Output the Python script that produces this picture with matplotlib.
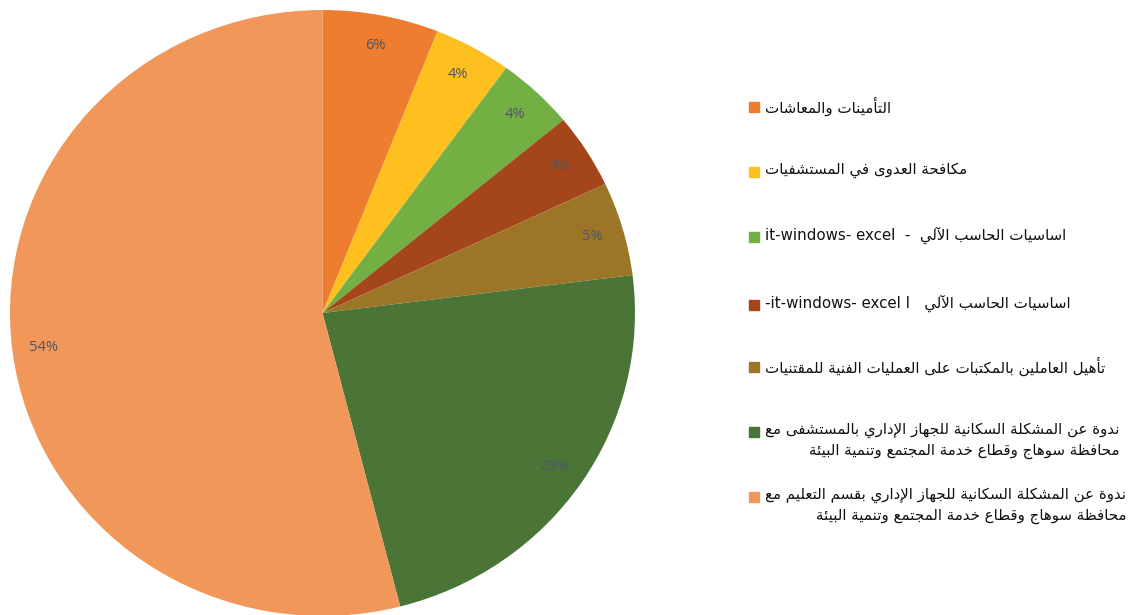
import matplotlib.pyplot as plt
from matplotlib.patches import Rectangle

# matplotlib has no Arabic shaping, so join letters with presentation forms
AR_LETTERS = "ءآأؤإئابةتثجحخدذرزسشصضطظعغفقكلمنهوىي"
AR_COUNTS = [1, 2, 2, 2, 2, 4, 2, 4, 2, 4, 4, 4, 4, 4, 2, 2, 2, 2, 4, 4,
             4, 4, 4, 4, 4, 4, 4, 4, 4, 4, 4, 4, 4, 2, 2, 4]
FORMS = {}
code = 0xFE80
for ch, n in zip(AR_LETTERS, AR_COUNTS):
    FORMS[ch] = (code, n)
    code += n
LAM_ALEF = {"آ": 0xFEF5, "أ": 0xFEF7, "إ": 0xFEF9, "ا": 0xFEFB}


def ar(text):
    toks = []
    i = 0
    while i < len(text):
        c = text[i]
        if c == "ل" and i + 1 < len(text) and text[i + 1] in LAM_ALEF:
            toks.append((LAM_ALEF[text[i + 1]], 2))
            i += 2
            continue
        toks.append(FORMS.get(c, c))
        i += 1
    out = []
    for k, t in enumerate(toks):
        if isinstance(t, str):
            out.append(t)
            continue
        base, n = t
        prev = (n > 1 and k > 0 and isinstance(toks[k - 1], tuple)
                and toks[k - 1][1] == 4)
        nxt = (n == 4 and k + 1 < len(toks) and isinstance(toks[k + 1], tuple)
               and toks[k + 1][1] > 1)
        if n == 4:
            off = [[0, 2], [1, 3]][prev][nxt]
        elif n == 2:
            off = 1 if prev else 0
        else:
            off = 0
        out.append(chr(base + off))
    return "".join(out)[::-1]


# Data
values = [6, 4, 4, 4, 5, 23, 54]
colors = ['#EF7D30', '#FDC01E', '#72B044', '#A5461A', '#9C7626', '#4A7536', '#F1975A']
basic_pc = ar("اساسيات الحاسب الآلي")
second_line = ar("محافظة سوهاج وقطاع خدمة المجتمع وتنمية البيئة")
categories = [
    ar("التأمينات والمعاشات"),
    ar("مكافحة العدوى في المستشفيات"),
    "it-windows- excel  -  " + basic_pc,
    "-it-windows- excel I   " + basic_pc,
    ar("تأهيل العاملين بالمكتبات على العمليات الفنية للمقتنيات"),
    ar("ندوة عن المشكلة السكانية للجهاز الإداري بالمستشفى مع") + "\n" + second_line,
    ar("ندوة عن المشكلة السكانية للجهاز الإداري بقسم التعليم مع") + "\n" + second_line,
]

W, H = 1128, 615
fig = plt.figure(figsize=(W / 100, H / 100), dpi=100)
fig.patch.set_facecolor('white')

# Pie (slightly oval, as in the original)
ax = fig.add_axes([10 / W, -1 / H, 625 / W, 606 / H])
wedges, texts, autotexts = ax.pie(values, colors=colors, startangle=90,
                                  counterclock=False, autopct='%1.0f%%',
                                  pctdistance=0.9,
                                  wedgeprops=dict(linewidth=0),
                                  textprops=dict(color='#505468', fontsize=10.5,
                                                 family='Open Sans'))
ax.set_aspect('auto')
ax.set_xlim(-1, 1)
ax.set_ylim(-1, 1)
ax.axis('off')

# Legend
marker_y = [107, 172, 237, 305, 367, 432, 497]
for lab, col, y in zip(categories, colors, marker_y):
    fig.add_artist(Rectangle((749 / W, 1 - (y + 5) / H), 10 / W, 10 / H,
                             transform=fig.transFigure, color=col))
    fig.text(765 / W, 1 - (y - 10) / H, lab, ha='left', va='top',
             multialignment='right', fontsize=10.8, color='#111111',
             linespacing=1.45, family=['DejaVu Sans'])

fig.savefig('out.png', dpi=100)
